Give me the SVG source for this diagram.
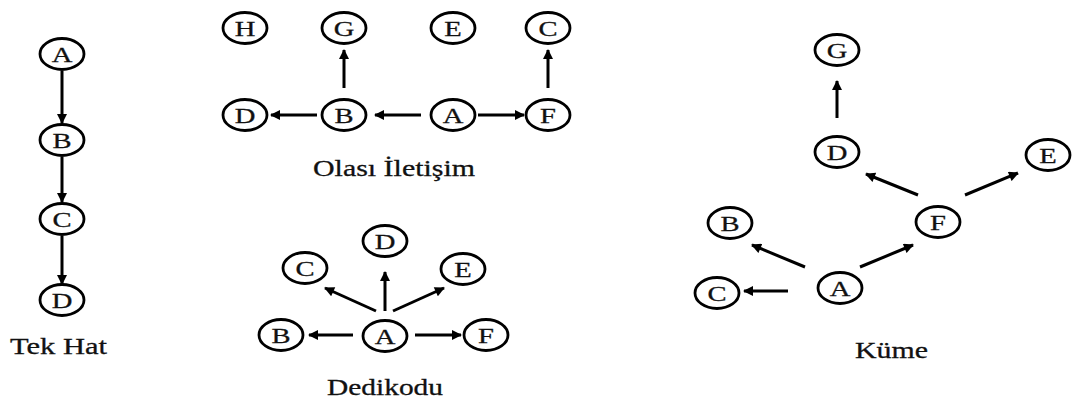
<svg xmlns="http://www.w3.org/2000/svg" width="1084" height="402" viewBox="0 0 1084 402">
<defs>
<style>
.n ellipse{fill:#fff;stroke:#000;stroke-width:2.8}
.n text{font-family:"Liberation Serif","Times New Roman",serif;font-size:22px;text-anchor:middle;fill:#111;stroke:#111;stroke-width:0.3}
.lbl{font-family:"Liberation Serif","Times New Roman",serif;font-size:24px;fill:#111;stroke:#111;stroke-width:0.3}
.e line{stroke:#000;stroke-width:3;marker-end:url(#ah)}
</style>
<marker id="ah" viewBox="0 0 10 10" refX="9" refY="5" markerWidth="11" markerHeight="10" markerUnits="userSpaceOnUse" orient="auto">
<path d="M0,0 L10,5 L0,10 z" fill="#000"/>
</marker>
</defs>
<rect width="1084" height="402" fill="#fff"/>

<g class="e" id="connectors">
<!-- Tek Hat -->
<line x1="62" y1="71" x2="62" y2="123"/>
<line x1="62" y1="157" x2="62" y2="202"/>
<line x1="62" y1="236" x2="62" y2="284"/>
<!-- Olasi Iletisim -->
<line x1="344" y1="88" x2="344" y2="50"/>
<line x1="317" y1="115" x2="271" y2="115"/>
<line x1="421" y1="115" x2="375" y2="115"/>
<line x1="478" y1="115" x2="524" y2="115"/>
<line x1="548" y1="88" x2="548" y2="50"/>
<!-- Dedikodu -->
<line x1="385" y1="311" x2="385" y2="272"/>
<line x1="376" y1="311" x2="325" y2="288"/>
<line x1="393" y1="311" x2="444" y2="288"/>
<line x1="353" y1="335" x2="309" y2="335"/>
<line x1="415" y1="335" x2="461" y2="335"/>
<!-- Kume -->
<line x1="837" y1="118" x2="837" y2="81"/>
<line x1="918" y1="195" x2="866" y2="174"/>
<line x1="965" y1="195" x2="1018" y2="173"/>
<line x1="805" y1="267" x2="752" y2="245"/>
<line x1="860" y1="267" x2="913" y2="245"/>
<line x1="788" y1="291" x2="744" y2="291"/>
</g>

<!-- Tek Hat -->
<g class="n" id="tek-A"><ellipse cx="62" cy="54" rx="22" ry="15.5"/><text transform="translate(62,61.5) scale(1.3,1)">A</text></g>
<g class="n" id="tek-B"><ellipse cx="62" cy="140" rx="22" ry="15.5"/><text transform="translate(62,147.5) scale(1.3,1)">B</text></g>
<g class="n" id="tek-C"><ellipse cx="62" cy="219" rx="22" ry="15.5"/><text transform="translate(62,226.5) scale(1.3,1)">C</text></g>
<g class="n" id="tek-D"><ellipse cx="62" cy="300" rx="22" ry="15.5"/><text transform="translate(62,307.5) scale(1.3,1)">D</text></g>
<text class="lbl" x="10" y="354" textLength="97" lengthAdjust="spacingAndGlyphs">Tek Hat</text>

<!-- Olasi Iletisim -->
<g class="n" id="ol-H"><ellipse cx="245" cy="28" rx="22" ry="15.5"/><text transform="translate(245,35.5) scale(1.3,1)">H</text></g>
<g class="n" id="ol-G"><ellipse cx="344" cy="28" rx="22" ry="15.5"/><text transform="translate(344,35.5) scale(1.3,1)">G</text></g>
<g class="n" id="ol-E"><ellipse cx="453" cy="28" rx="22" ry="15.5"/><text transform="translate(453,35.5) scale(1.3,1)">E</text></g>
<g class="n" id="ol-C"><ellipse cx="548" cy="28" rx="22" ry="15.5"/><text transform="translate(548,35.5) scale(1.3,1)">C</text></g>
<g class="n" id="ol-D"><ellipse cx="245" cy="115" rx="22" ry="15.5"/><text transform="translate(245,122.5) scale(1.3,1)">D</text></g>
<g class="n" id="ol-B"><ellipse cx="344" cy="115" rx="22" ry="15.5"/><text transform="translate(344,122.5) scale(1.3,1)">B</text></g>
<g class="n" id="ol-A"><ellipse cx="453" cy="115" rx="22" ry="15.5"/><text transform="translate(453,122.5) scale(1.3,1)">A</text></g>
<g class="n" id="ol-F"><ellipse cx="548" cy="115" rx="22" ry="15.5"/><text transform="translate(548,122.5) scale(1.3,1)">F</text></g>
<text class="lbl" x="313" y="176" textLength="162" lengthAdjust="spacingAndGlyphs">Olası İletişim</text>

<!-- Dedikodu -->
<g class="n" id="de-C"><ellipse cx="305" cy="268" rx="22" ry="15.5"/><text transform="translate(305,275.5) scale(1.3,1)">C</text></g>
<g class="n" id="de-D"><ellipse cx="385" cy="241" rx="22" ry="15.5"/><text transform="translate(385,248.5) scale(1.3,1)">D</text></g>
<g class="n" id="de-E"><ellipse cx="463" cy="269" rx="22" ry="15.5"/><text transform="translate(463,276.5) scale(1.3,1)">E</text></g>
<g class="n" id="de-B"><ellipse cx="281" cy="335" rx="22" ry="15.5"/><text transform="translate(281,342.5) scale(1.3,1)">B</text></g>
<g class="n" id="de-A"><ellipse cx="385" cy="336" rx="22" ry="15.5"/><text transform="translate(385,343.5) scale(1.3,1)">A</text></g>
<g class="n" id="de-F"><ellipse cx="486" cy="335" rx="22" ry="15.5"/><text transform="translate(486,342.5) scale(1.3,1)">F</text></g>
<text class="lbl" x="327" y="395" textLength="116" lengthAdjust="spacingAndGlyphs">Dedikodu</text>

<!-- Kume -->
<g class="n" id="ku-G"><ellipse cx="837" cy="50" rx="22" ry="15.5"/><text transform="translate(837,57.5) scale(1.3,1)">G</text></g>
<g class="n" id="ku-D"><ellipse cx="837" cy="152" rx="22" ry="15.5"/><text transform="translate(837,159.5) scale(1.3,1)">D</text></g>
<g class="n" id="ku-E"><ellipse cx="1048" cy="155" rx="22" ry="15.5"/><text transform="translate(1048,162.5) scale(1.3,1)">E</text></g>
<g class="n" id="ku-F"><ellipse cx="938" cy="222" rx="22" ry="15.5"/><text transform="translate(938,229.5) scale(1.3,1)">F</text></g>
<g class="n" id="ku-B"><ellipse cx="730" cy="223" rx="22" ry="15.5"/><text transform="translate(730,230.5) scale(1.3,1)">B</text></g>
<g class="n" id="ku-A"><ellipse cx="840" cy="288" rx="22" ry="15.5"/><text transform="translate(840,295.5) scale(1.3,1)">A</text></g>
<g class="n" id="ku-C"><ellipse cx="717" cy="293" rx="22" ry="15.5"/><text transform="translate(717,300.5) scale(1.3,1)">C</text></g>
<text class="lbl" x="855" y="358" textLength="73" lengthAdjust="spacingAndGlyphs">Küme</text>
</svg>
